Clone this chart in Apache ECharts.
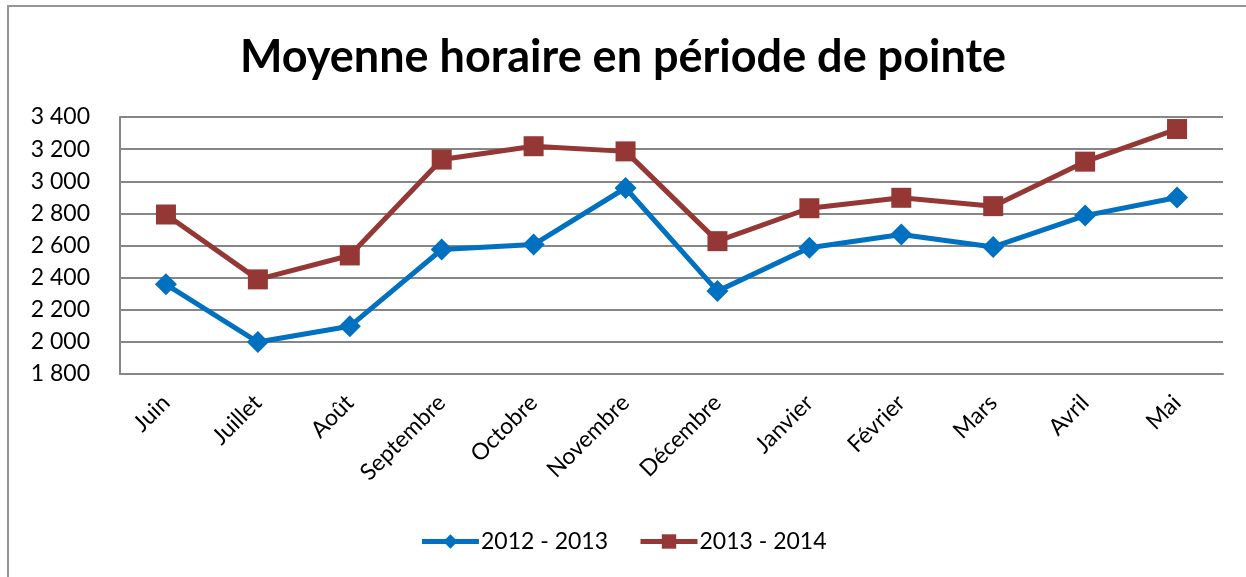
<!DOCTYPE html>
<html>
<head>
<meta charset="utf-8">
<script src="https://cdn.jsdelivr.net/npm/echarts@6/dist/echarts.min.js"></script>
<style>
  html, body { margin: 0; padding: 0; background: #fff; overflow: hidden; }
  .frame {
    position: absolute; left: 7px; top: 5px; width: 1280px; height: 620px;
    border: 2px solid #959595; box-sizing: border-box;
  }
  #chart { position: absolute; left: 0; top: 0; width: 1246px; height: 577px; }
</style>
</head>
<body>
<div class="frame"></div>
<div id="chart"></div>
<script>
const months = ['Juin', 'Juillet', 'Août', 'Septembre', 'Octobre', 'Novembre',
  'Décembre', 'Janvier', 'Février', 'Mars', 'Avril', 'Mai']
const serie2012 = [2358, 1999, 2097, 2575, 2606, 2958, 2316, 2586, 2668, 2591, 2786, 2899]
const serie2013 = [2793, 2389, 2538, 3135, 3218, 3186, 2627, 2832, 2897, 2845, 3122, 3325]

const fontFamily = 'Lato, "Open Sans", sans-serif'

const chart = echarts.init(document.getElementById('chart'))

const formatThousands = v => {
  const s = String(v)
  return s.length > 3 ? s.slice(0, s.length - 3) + ' ' + s.slice(-3) : s
}

chart.setOption({
  animation: false,
  title: {
    text: 'Moyenne horaire en période de pointe',
    left: 'center',
    top: 30,
    padding: [5, 5, 5, 15],
    textStyle: { fontFamily, fontSize: 45, fontWeight: 'bold', color: '#000' }
  },
  grid: { left: 120, right: 23, top: 117, bottom: 203 },
  legend: {
    bottom: 19,
    left: 'center',
    itemWidth: 57,
    itemHeight: 18,
    itemGap: 30,
    lineStyle: { width: 5 },
    textStyle: { fontFamily, fontSize: 23, color: '#000', padding: [0, 0, 0, -3] },
    data: ['2012 - 2013', '2013 - 2014']
  },
  xAxis: {
    type: 'category',
    data: months,
    boundaryGap: true,
    axisLine: { lineStyle: { color: '#868686', width: 2 } },
    axisTick: { show: false },
    axisLabel: { rotate: 45, margin: 25, color: '#000', fontFamily, fontSize: 23 }
  },
  yAxis: {
    type: 'value',
    min: 1800,
    max: 3400,
    interval: 200,
    axisLine: { show: true, lineStyle: { color: '#868686', width: 2 } },
    axisTick: { show: false },
    splitLine: { lineStyle: { color: '#868686', width: 2 } },
    axisLabel: { margin: 30, color: '#000', fontFamily, fontSize: 23, formatter: formatThousands }
  },
  series: [
    {
      name: '2012 - 2013',
      type: 'line',
      data: serie2012,
      symbol: 'diamond',
      symbolSize: 22,
      color: '#0070c0',
      lineStyle: { width: 5, color: '#0070c0' },
      itemStyle: { color: '#0070c0' }
    },
    {
      name: '2013 - 2014',
      type: 'line',
      data: serie2013,
      symbol: 'rect',
      symbolSize: 20,
      color: '#953735',
      lineStyle: { width: 5, color: '#953735' },
      itemStyle: { color: '#953735' }
    }
  ]
})
</script>
</body>
</html>
